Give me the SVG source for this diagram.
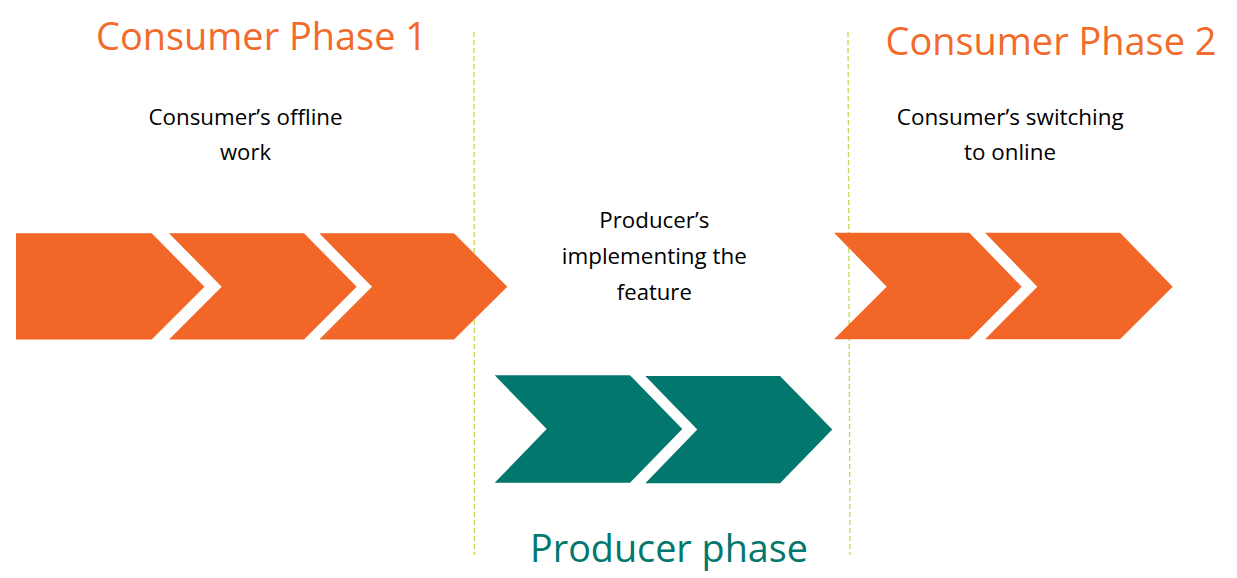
<svg xmlns="http://www.w3.org/2000/svg" width="1237" height="578" viewBox="0 0 1237 578">
  <style>
    .orange { fill: #f26727; }
    .teal { fill: #02776d; }
    .title { font-family: "Open Sans", "Liberation Sans", sans-serif; font-size: 38px; }
    .t-orange { fill: #f26b2c; }
    .t-teal { fill: #02776d; }
    .label { font-family: "Open Sans", "Liberation Sans", sans-serif; font-size: 21px; fill: #000000; text-anchor: middle; }
    .divider { stroke: #c9d64b; stroke-width: 1.3; stroke-dasharray: 5 3; fill: none; }
  </style>
  <rect width="1237" height="578" fill="#ffffff"/>

  <g id="connectors">
    <line class="divider" x1="474" y1="32" x2="474.5" y2="555"/>
    <line class="divider" x1="848" y1="32" x2="850" y2="555"/>
  </g>

  <g id="consumer-phase-1">
    <text class="title t-orange" x="96" y="50" textLength="331" lengthAdjust="spacingAndGlyphs">Consumer Phase 1</text>
    <text class="label" x="245.5" y="125" textLength="194" lengthAdjust="spacingAndGlyphs">Consumer’s offline</text>
    <text class="label" x="245.5" y="160" textLength="51" lengthAdjust="spacingAndGlyphs">work</text>
    <polygon class="orange" points="16,233.3 151.7,233.3 204.5,286.7 151.7,339.5 16,339.5"/>
    <polygon class="orange" points="169,233.3 304,233.3 356.7,286.7 304,339.5 169,339.5 221.7,286.7"/>
    <polygon class="orange" points="319.3,233.3 454,233.3 507.3,286.7 454,339.5 319.3,339.5 372,286.7"/>
  </g>

  <g id="producer-phase">
    <text class="label" x="654.3" y="228.3" textLength="110" lengthAdjust="spacingAndGlyphs">Producer’s</text>
    <text class="label" x="654.3" y="264" textLength="185" lengthAdjust="spacingAndGlyphs">implementing the</text>
    <text class="label" x="654.3" y="300" textLength="75" lengthAdjust="spacingAndGlyphs">feature</text>
    <polygon class="teal" points="494.7,375.3 630,375.3 682.3,429 630,482.7 494.7,482.7 546.7,429"/>
    <polygon class="teal" points="645.3,376 780,376 832.3,429.5 780,483.3 645.3,483.3 697.3,429.5"/>
    <text class="title t-teal" x="530" y="561.5" textLength="278" lengthAdjust="spacingAndGlyphs">Producer phase</text>
  </g>

  <g id="consumer-phase-2">
    <text class="title t-orange" x="885.5" y="55" textLength="331" lengthAdjust="spacingAndGlyphs">Consumer Phase 2</text>
    <text class="label" x="1010.3" y="125" textLength="227" lengthAdjust="spacingAndGlyphs">Consumer’s switching</text>
    <text class="label" x="1010" y="160" textLength="92" lengthAdjust="spacingAndGlyphs">to online</text>
    <polygon class="orange" points="834,232.7 969.3,232.7 1021.7,286.7 969.3,339.3 834,339.3 886.7,286.7"/>
    <polygon class="orange" points="985,232.7 1120,232.7 1172.7,286.7 1120,339.3 985,339.3 1037.3,286.7"/>
  </g>
</svg>
